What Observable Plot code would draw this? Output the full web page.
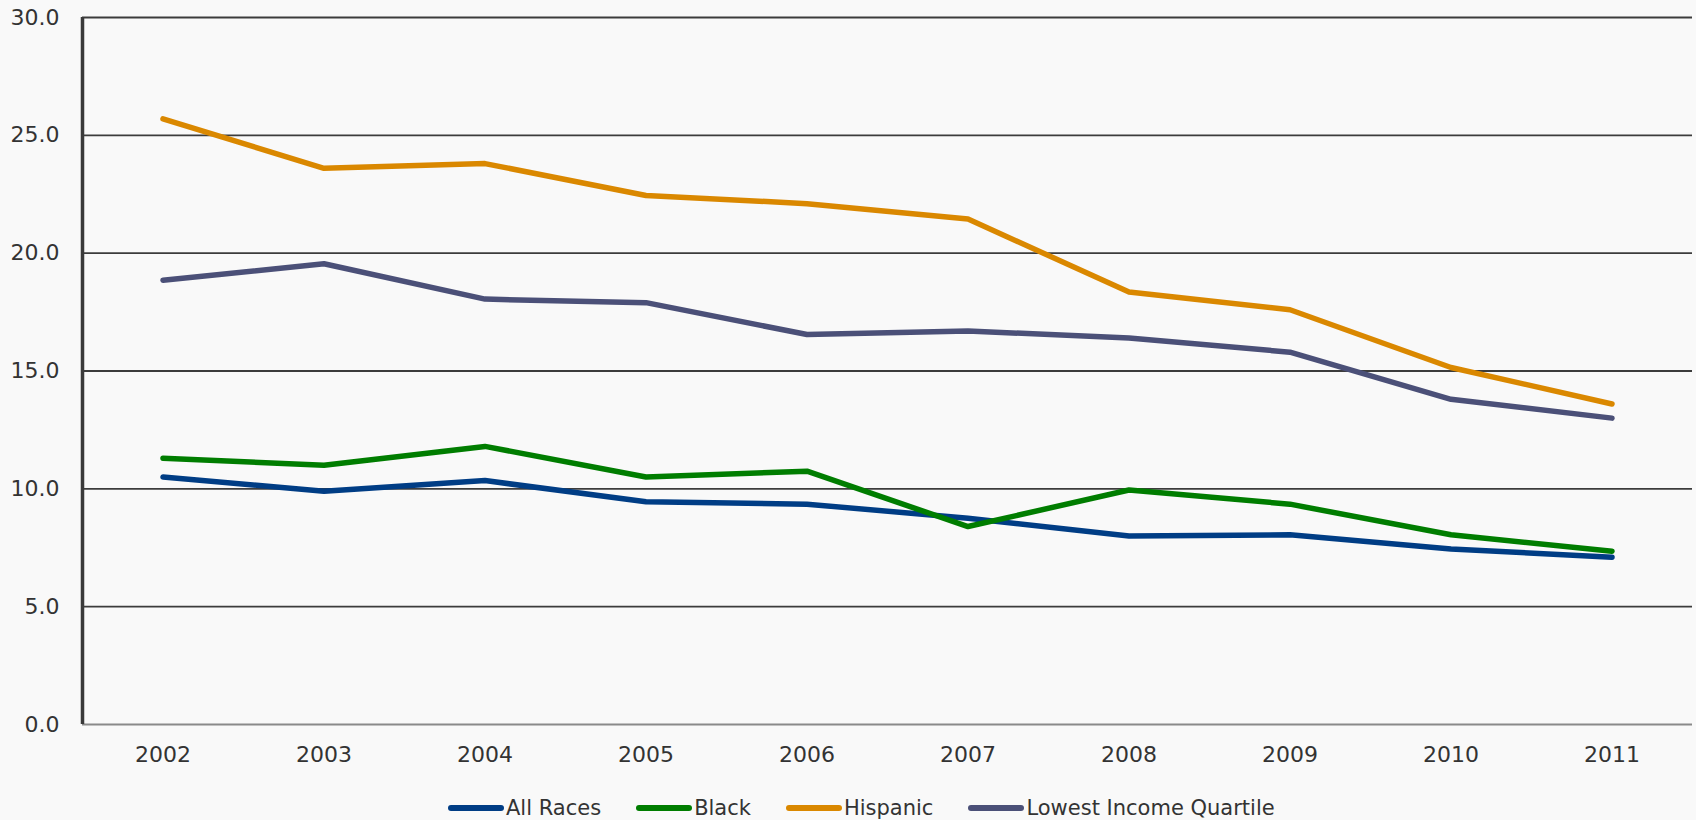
<!DOCTYPE html>
<html>
<head>
<meta charset="utf-8">
<script src="https://cdn.jsdelivr.net/npm/d3@7"></script>
<script src="https://cdn.jsdelivr.net/npm/@observablehq/plot@0.6"></script>
<style>
  html, body { margin: 0; padding: 0; background: #f9f9f9; }
  #chart svg { display: block; }
  .legend { display: flex; align-items: center; padding-left: 448px; margin-top: 16px;
            font-family: "DejaVu Sans", sans-serif; line-height: 24px;
            font-size: 21px; color: #333; white-space: nowrap; }
  .legend .item { display: flex; align-items: center; margin-right: 35px; }
  .legend .sw { width: 56px; height: 6px; border-radius: 3px; margin-right: 2px; flex: none; }
</style>
</head>
<body>
<div id="chart"></div>
<script>
// Years on the x axis
const years = [2002, 2003, 2004, 2005, 2006, 2007, 2008, 2009, 2010, 2011];

// Series values
const allRaces = [10.5, 9.9, 10.35, 9.45, 9.35, 8.75, 8.0, 8.05, 7.45, 7.1];
const black    = [11.3, 11.0, 11.8, 10.5, 10.75, 8.4, 9.95, 9.35, 8.05, 7.35];
const hispanic = [25.7, 23.6, 23.8, 22.45, 22.1, 21.45, 18.35, 17.6, 15.15, 13.6];
const lowestQ  = [18.85, 19.55, 18.05, 17.9, 16.55, 16.7, 16.4, 15.8, 13.8, 13.0];

const seriesNames = ["All Races", "Black", "Hispanic", "Lowest Income Quartile"];
const seriesColors = ["#003d85", "#007d00", "#da8800", "#4b5078"];
const seriesValues = [allRaces, black, hispanic, lowestQ];

// y-axis ticks
const yTicks = [0, 5, 10, 15, 20, 25, 30];

// Long-format table for Plot
const rows = seriesNames.flatMap((name, s) =>
  years.map((year, i) => ({ series: name, year, value: seriesValues[s][i] }))
);

const chart = Plot.plot({
  width: 1696,
  height: 780,
  marginLeft: 82,
  marginRight: 4,
  marginTop: 17,
  marginBottom: 56,
  style: { background: "transparent", fontFamily: "DejaVu Sans, sans-serif", fontSize: "22px", color: "#333" },
  x: { domain: [years[0] - 0.5, years[years.length - 1] + 0.5], label: null },
  y: { domain: [0, 30], label: null },
  color: { domain: seriesNames, range: seriesColors },
  marks: [
    Plot.ruleY(yTicks.slice(1), { stroke: "#3c3c3c", strokeWidth: 1.8 }),
    Plot.ruleY([0], { stroke: "#8a8a8a", strokeWidth: 2 }),
    Plot.ruleX([years[0] - 0.5], { stroke: "#3a3a3a", strokeWidth: 3.5 }),
    Plot.axisY({ ticks: yTicks, tickSize: 0, tickPadding: 23, tickFormat: d3.format(".1f"), fill: "#333" }),
    Plot.axisX({ ticks: years, tickSize: 0, tickPadding: 22, tickFormat: d3.format("d"), fill: "#333" }),
    Plot.line(rows, { x: "year", y: "value", z: "series", stroke: "series", strokeWidth: 5.5, strokeLinecap: "round", strokeLinejoin: "round" })
  ]
});

document.getElementById("chart").appendChild(chart);

// Legend below the chart
const legend = document.createElement("div");
legend.className = "legend";
seriesNames.forEach((name, i) => {
  const item = document.createElement("div");
  item.className = "item";
  const sw = document.createElement("span");
  sw.className = "sw";
  sw.style.background = seriesColors[i];
  const label = document.createElement("span");
  label.textContent = name;
  item.appendChild(sw);
  item.appendChild(label);
  legend.appendChild(item);
});
document.body.appendChild(legend);
</script>
</body>
</html>
